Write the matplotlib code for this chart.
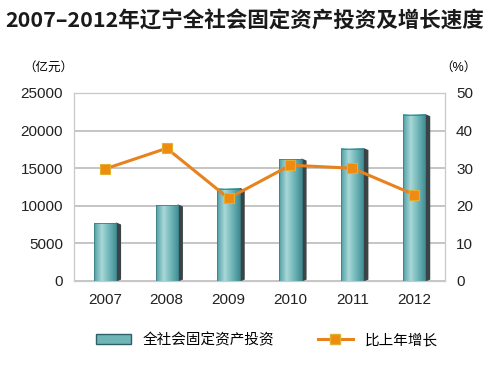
import numpy as np
import matplotlib.pyplot as plt
from matplotlib.patches import Rectangle, Polygon
from matplotlib.lines import Line2D
from matplotlib.colors import LinearSegmentedColormap

plt.rcParams['font.family'] = ['Liberation Sans', 'Noto Sans CJK SC', 'DejaVu Sans']

years = ['2007', '2008', '2009', '2010', '2011', '2012']
investment = [7700, 10100, 12300, 16200, 17600, 22100]
growth = [29.8, 35.3, 22.0, 30.8, 30.0, 23.0]

fig = plt.figure(figsize=(4.89, 3.67), dpi=100)
ax = fig.add_axes([74 / 489, 1 - 281 / 367, 371 / 489, 188 / 367])
ax2 = ax.twinx()

x = np.arange(len(years))
w = 0.36
# gradient for the bar faces
grad = np.linspace(0, 1, 64).reshape(1, -1)
cmap = LinearSegmentedColormap.from_list('teal', ['#4f9fa5', '#a9d8d8', '#6fb5b8', '#3f8c93'])

for xi, v in zip(x, investment):
    # dark side on the right
    ax.add_patch(Polygon([[xi + w / 2, 0], [xi + w / 2 + 0.07, 250],
                          [xi + w / 2 + 0.07, v - 250], [xi + w / 2, v]],
                         closed=True, color='#3a4446', zorder=2))
    ax.imshow(grad, cmap=cmap, aspect='auto', extent=[xi - w / 2, xi + w / 2, 0, v],
              zorder=3)
    ax.add_patch(Rectangle((xi - w / 2, 0), w, v, fill=False, ec='#3f7f86', lw=0.6, zorder=4))

ax.set_xlim(-0.5, len(years) - 0.5)
ax.set_ylim(0, 25000)
ax.set_yticks(range(0, 25001, 5000))
ax.set_xticks(x)
ax.set_xticklabels(years)
ax.grid(axis='y', color='#bbbbbb', lw=1.2, zorder=0)
ax.set_axisbelow(True)

ax2.plot(x, growth, color='#e8821e', lw=2.2, marker='s', ms=7,
         mfc='#f08a10', mec='#e0b030', mew=0.8, zorder=5)
ax2.set_ylim(0, 50)
ax2.set_yticks(range(0, 51, 10))

for a in (ax, ax2):
    for s in a.spines.values():
        s.set_color('#c8c8c8')
    a.tick_params(length=0, labelsize=11, colors='#222222', pad=8)
ax.tick_params(axis='x', pad=9)

fig.text(0.5, 0.942, '2007–2012年辽宁全社会固定资产投资及增长速度', ha='center', va='center',
         fontsize=15.5, fontweight='bold', color='#1a1a1a',
         family=['Noto Sans CJK SC', 'DejaVu Sans'])
fig.text(48 / 489, 1 - 68 / 367, '（亿元）', ha='center', va='center', fontsize=9)
fig.text(458 / 489, 1 - 68 / 367, '（%）', ha='center', va='center', fontsize=9)

handles = [Rectangle((0, 0), 1, 1, fc='#6fb5b8', ec='#2f5f66'),
           Line2D([], [], color='#e8821e', lw=2.2, marker='s', ms=7, mfc='#f08a10', mec='#e0b030')]
fig.legend(handles, ['全社会固定资产投资', '比上年增长'], loc='center',
           bbox_to_anchor=(0.545, 1 - 340 / 367), ncol=2, frameon=False, fontsize=10.5,
           handlelength=2.4, columnspacing=3)

fig.savefig('out.png', dpi=100)
